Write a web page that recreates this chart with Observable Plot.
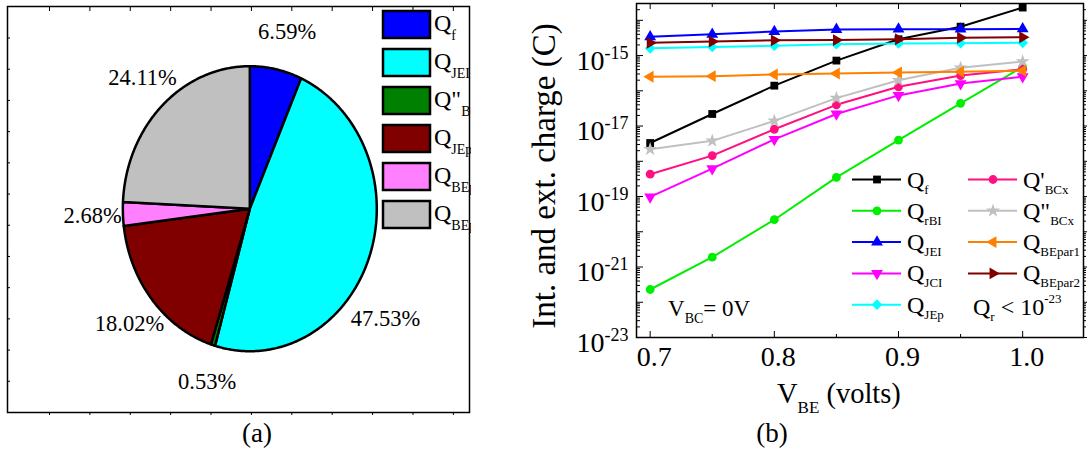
<!DOCTYPE html>
<html><head><meta charset="utf-8">
<script src="https://cdn.jsdelivr.net/npm/d3@7"></script>
<script src="https://cdn.jsdelivr.net/npm/@observablehq/plot@0.6"></script>
<style>
body{margin:0;background:#fff;}
#root{position:relative;width:1087px;height:452px;overflow:hidden;font-family:"Liberation Serif","Times New Roman",serif;background:#fff;}
#pa{position:absolute;left:0;top:0;width:471px;height:420px;overflow:hidden;}
#pb{position:absolute;left:530px;top:0;}
#ov{position:absolute;left:0;top:0;}
</style></head><body>
<div id="root"><div id="pa"></div><div id="pb"></div><svg id="ov" width="1087" height="452"></svg></div>
<script>
// ---------- data: panel (a) ----------
const pieMain = ["Q", "Q", "Q\"", "Q", "Q", "Q"];
const pieSub = ["f", "JEI", "BCx", "JEp", "BEpar1", "BEpar2"];
const pieValues = [6.59, 47.53, 0.53, 18.02, 2.68, 24.11];
const pieColors = ["#0000ff", "#00ffff", "#008000", "#800000", "#ff80ff", "#c0c0c0"];

// ---------- data: panel (b) ----------
const vbe = [0.70, 0.75, 0.80, 0.85, 0.90, 0.95, 1.00];
const qF      = [3.3e-18, 2.2e-17, 1.4e-16, 7.2e-16, 2.9e-15, 6.6e-15, 2.3e-14];
const qRBI    = [2.3e-22, 1.9e-21, 2.2e-20, 3.5e-19, 4.0e-18, 4.4e-17, 4.8e-16];
const qJEI    = [3.4e-15, 4.0e-15, 4.8e-15, 5.5e-15, 5.6e-15, 5.6e-15, 5.7e-15];
const qJCI    = [9.8e-20, 6.2e-19, 4.2e-18, 2.2e-17, 7.4e-17, 1.6e-16, 2.5e-16];
const qJEp    = [1.6e-15, 1.75e-15, 1.9e-15, 2.1e-15, 2.2e-15, 2.25e-15, 2.3e-15];
const qBCx1   = [4.3e-19, 1.45e-18, 8.1e-18, 4.0e-17, 1.3e-16, 2.7e-16, 4.1e-16];
const qBCx2   = [2.2e-18, 3.8e-18, 1.4e-17, 6.2e-17, 2.0e-16, 4.5e-16, 6.8e-16];
const qBEpar1 = [2.5e-16, 2.6e-16, 2.9e-16, 3.1e-16, 3.3e-16, 3.5e-16, 3.7e-16];
const qBEpar2 = [2.3e-15, 2.5e-15, 2.7e-15, 2.75e-15, 2.9e-15, 3.2e-15, 3.3e-15];

const seriesMain = ["Q", "Q", "Q", "Q", "Q", "Q'", "Q\"", "Q", "Q"];
const seriesSub  = ["f", "rBI", "JEI", "JCI", "JEp", "BCx", "BCx", "BEpar1", "BEpar2"];
const seriesVals = [qF, qRBI, qJEI, qJCI, qJEp, qBCx1, qBCx2, qBEpar1, qBEpar2];
const seriesColors = ["#000000", "#00ee00", "#0000ff", "#ff00ff", "#00ffff", "#ff1080", "#c0c0c0", "#ff8000", "#800000"];
const seriesSymbols = ["square", "circle", "triangle", "triangle", "diamond2", "circle", "star", "triangle", "triangle"];
const seriesRotate = [0, 0, 0, 180, 0, 0, 0, -90, 90];

const xTickLabels = [0.7, 0.8, 0.9, 1.0];
const xTickMinor = [0.75, 0.85, 0.95];
const yLabelExps = [-23, -21, -19, -17, -15];

// ---------- panel (a): pie ----------
const PIE = {cx: 5.96, cy: 6.53, rx: 3.144, ry: 4.567, lab: 1.27};
const total = d3.sum(pieValues);
const slicePts = [], sliceLab = [];
let cum = 0;
pieValues.forEach((v, i) => {
  const a0 = cum / total * 2 * Math.PI; cum += v;
  const a1 = cum / total * 2 * Math.PI;
  const n = Math.max(2, Math.ceil((a1 - a0) / (Math.PI / 360)));
  slicePts.push({k: i, x: PIE.cx, y: PIE.cy, c: pieColors[i]});
  for (let j = 0; j <= n; j++) {
    const a = a0 + (a1 - a0) * j / n;
    slicePts.push({k: i, x: PIE.cx + PIE.rx * Math.sin(a), y: PIE.cy + PIE.ry * Math.cos(a), c: pieColors[i]});
  }
  slicePts.push({k: i, x: PIE.cx, y: PIE.cy, c: pieColors[i]});
  const am = (a0 + a1) / 2;
  sliceLab.push({i, x: PIE.cx + PIE.rx * PIE.lab * Math.sin(am), y: PIE.cy + PIE.ry * PIE.lab * Math.cos(am), t: v.toFixed(2) + "%"});
});
const bigSlice = sliceLab.filter(d => d.i === 1);
const otherSlices = sliceLab.filter(d => d.i !== 1);

const plotA = Plot.plot({
  width: 471, height: 416,
  marginLeft: 7, marginRight: 2, marginTop: 6, marginBottom: 4,
  x: {domain: [-0.04, 11.4]},
  y: {domain: [0, 13.01]},
  color: {type: "identity"},
  style: {fontFamily: "Liberation Serif", background: "white"},
  marks: [
    Plot.line(slicePts, {x: "x", y: "y", z: "k", fill: "c", stroke: "black", strokeWidth: 2.5, strokeLinejoin: "round"}),
    Plot.text(otherSlices, {x: "x", y: "y", text: "t", fontSize: 22.5, fill: "black", dx: 4}),
    Plot.text(bigSlice, {x: "x", y: "y", text: "t", fontSize: 22.5, fill: "black", dx: -16, dy: 49}),
    Plot.axisX(d3.range(1, 12), {anchor: "top", tickSize: -4, tickFormat: () => "", label: null}),
    Plot.axisX(d3.range(1, 12), {anchor: "bottom", tickSize: 3, tickFormat: () => "", label: null}),
    Plot.axisY(d3.range(1, 13), {anchor: "left", tickSize: -3, tickFormat: () => "", label: null}),
    Plot.frame({stroke: "black", strokeWidth: 1.5})
  ]
});
document.getElementById("pa").appendChild(plotA);

// ---------- panel (b): log lines ----------
const yDecades = d3.range(-23, -13).map(e => Math.pow(10, e));
const yMinor = [];
d3.range(-23, -14).forEach(e => d3.range(2, 10).forEach(m => yMinor.push(m * Math.pow(10, e))));
yMinor.push(2e-14);
const yLabeled = yLabelExps.map(e => Math.pow(10, e));

const seriesMarks = [];
seriesVals.forEach((vals, i) => {
  const rows = vbe.map((v, j) => ({v, q: vals[j]}));
  seriesMarks.push(Plot.line(rows, {x: "v", y: "q", stroke: seriesColors[i], strokeWidth: 2}));
  seriesMarks.push(Plot.dot(rows, {x: "v", y: "q", fill: seriesColors[i], stroke: "none", symbol: seriesSymbols[i], rotate: seriesRotate[i], r: seriesSymbols[i] === "diamond2" ? 4.8 : 4.4}));
});

const plotB = Plot.plot({
  width: 557, height: 400,
  marginLeft: 106, marginRight: 4, marginTop: 3, marginBottom: 63,
  x: {domain: [0.689, 1.049]},
  y: {type: "log", domain: [1e-23, 3e-14]},
  style: {fontFamily: "Liberation Serif", background: "white"},
  marks: [
    ...seriesMarks,
    Plot.axisX(xTickLabels, {anchor: "bottom", tickSize: 0, tickPadding: 9, tickFormat: d3.format(".1f"), fontSize: 27, label: null, dx: 4}),
    Plot.axisX(xTickLabels, {anchor: "bottom", tickSize: -6, tickFormat: () => "", label: null}),
    Plot.axisX(xTickMinor, {anchor: "bottom", tickSize: -3, tickFormat: () => "", label: null}),
    Plot.axisX(xTickLabels, {anchor: "top", tickSize: -5, tickFormat: () => "", label: null}),
    Plot.axisX(xTickMinor, {anchor: "top", tickSize: -3, tickFormat: () => "", label: null}),
    Plot.axisY(yLabeled, {anchor: "left", tickSize: 0, tickPadding: 8, fontSize: 27, tickFormat: d => String(Math.round(Math.log10(d))), label: null}),
    Plot.axisY(yDecades, {anchor: "left", tickSize: -7, tickFormat: () => "", label: null}),
    Plot.axisY(yMinor, {anchor: "left", tickSize: -4, tickFormat: () => "", label: null}),
    Plot.axisY(yDecades, {anchor: "right", tickSize: 4, tickFormat: () => "", label: null}),
    Plot.axisY(yMinor, {anchor: "right", tickSize: 2, tickFormat: () => "", label: null}),
    Plot.frame({stroke: "black", strokeWidth: 1.5})
  ]
});
document.getElementById("pb").appendChild(plotB);

// tick label sizes and superscript exponents
d3.select(plotB).selectAll('g[aria-label="x-axis tick label"]').attr("font-size", 28).selectAll("text").style("font-size", "28px");
d3.select(plotB).selectAll('g[aria-label="y-axis tick label"]').attr("font-size", 27);
d3.select(plotB).selectAll('g[aria-label="y-axis tick label"] text').each(function () {
  const t = d3.select(this);
  const s = t.text();
  if (!s) return;
  t.style("font-size", "28px").attr("y", "0.5em");
  t.text("");
  t.append("tspan").text("10");
  t.append("tspan").attr("dy", "-0.6em").attr("font-size", "18px").text(s);
});

// ---------- overlay: legends and titles ----------
const ov = d3.select("#ov").attr("font-family", "Liberation Serif, Times New Roman, serif");
function rich(g, x, y, parts, fs, o = {}) {
  const t = g.append("text").attr("x", x).attr("y", y).attr("font-size", fs).attr("text-anchor", o.anchor || "start").attr("fill", "black");
  if (o.transform) t.attr("transform", o.transform);
  let off = 0;
  for (const p of parts) {
    const target = p.sub ? (o.subShift ?? fs * 0.3) : p.sup ? -(o.supShift ?? fs * 0.45) : 0;
    const ts = t.append("tspan").text(p.t).attr("dy", target - off);
    if (p.sub || p.sup) ts.attr("font-size", o.subSize ?? fs * 0.6);
    off = target;
  }
  return t;
}

// pie legend (clipped at panel edge)
ov.append("clipPath").attr("id", "clipA").append("rect").attr("x", 0).attr("y", 0).attr("width", 471).attr("height", 452);
const lgA = ov.append("g").attr("clip-path", "url(#clipA)");
pieMain.forEach((m, i) => {
  const y0 = 11 + 38 * i;
  lgA.append("rect").attr("x", 383).attr("y", y0).attr("width", 47).attr("height", 27)
    .attr("fill", pieColors[i]).attr("stroke", "black").attr("stroke-width", 2.5);
  rich(lgA, 434, y0 + 20, [{t: m}, {t: pieSub[i], sub: true}], 24, {subSize: 14, subShift: 9});
});

// panel (b) legend
const lgB = ov.append("g");
const colX = [852, 968];
const symMap = {square: d3.symbolSquare, circle: d3.symbolCircle, triangle: d3.symbolTriangle, diamond2: d3.symbolDiamond2, star: d3.symbolStar};
seriesMain.forEach((m, i) => {
  const col = i < 5 ? 0 : 1;
  const row = i < 5 ? i : i - 5;
  const x0 = colX[col], y0 = 179.5 + 31.3 * row;
  lgB.append("line").attr("x1", x0).attr("x2", x0 + 49).attr("y1", y0).attr("y2", y0)
    .attr("stroke", seriesColors[i]).attr("stroke-width", 2);
  const rr = seriesSymbols[i] === "diamond2" ? 4.8 : 4.4;
  lgB.append("path").attr("d", d3.symbol(symMap[seriesSymbols[i]], Math.PI * rr * rr)())
    .attr("transform", `translate(${x0 + 25},${y0}) rotate(${seriesRotate[i]})`).attr("fill", seriesColors[i]);
  rich(lgB, x0 + 55, y0 + 8, [{t: m}, {t: seriesSub[i], sub: true}], 24, {subSize: 13, subShift: 6});
});
rich(lgB, 973, 315, [{t: "Q"}, {t: "r", sub: true}, {t: " < 10"}, {t: "-23", sup: true}], 24, {subSize: 13, subShift: 6, supShift: 12});
rich(lgB, 668, 316, [{t: "V"}, {t: "BC", sub: true}, {t: "= 0V"}], 23, {subSize: 14, subShift: 7});

// axis titles and panel captions
rich(ov, 777, 403, [{t: "V"}, {t: "BE", sub: true}, {t: " (volts)"}], 28.5, {subSize: 17, subShift: 10});
ov.append("text").attr("transform", "translate(555,176) rotate(-90)").attr("text-anchor", "middle")
  .attr("font-size", 33).text("Int. and ext. charge (C)");
ov.append("text").attr("x", 257).attr("y", 442).attr("text-anchor", "middle").attr("font-size", 27).text("(a)");
ov.append("text").attr("x", 772).attr("y", 442).attr("text-anchor", "middle").attr("font-size", 27).text("(b)");
</script>
</body></html>
